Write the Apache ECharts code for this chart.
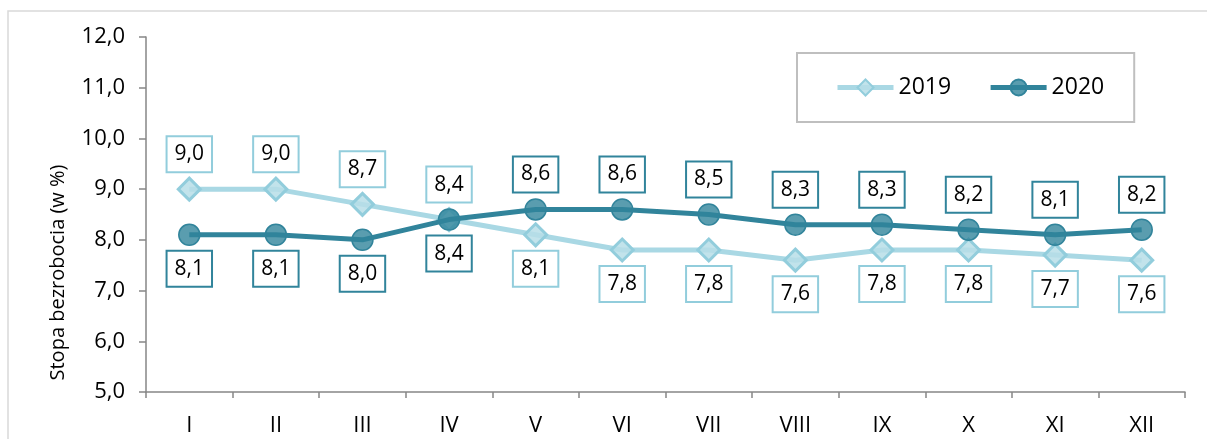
<!DOCTYPE html>
<html>
<head>
<meta charset="utf-8">
<script src="https://cdn.jsdelivr.net/npm/echarts@6/dist/echarts.min.js"></script>
<style>
html,body{margin:0;padding:0;background:#fff;}
#c{width:1207px;height:439px;}
</style>
</head>
<body>
<div id="c"></div>
<script>
const categories = ['I','II','III','IV','V','VI','VII','VIII','IX','X','XI','XII'];
const values2019 = [9.0, 9.0, 8.7, 8.4, 8.1, 7.8, 7.8, 7.6, 7.8, 7.8, 7.7, 7.6];
const values2020 = [8.1, 8.1, 8.0, 8.4, 8.6, 8.6, 8.5, 8.3, 8.3, 8.2, 8.1, 8.2];
const seriesNames = ['2019', '2020'];
const yAxisTitle = 'Stopa bezrobocia (w %)';
const yMin = 5, yMax = 12, yStep = 1;

const FONT = 'Open Sans';
const fmt = v => v.toFixed(1).replace('.', ',');

function labelled(values, other, isFirst, border) {
  return values.map((v, i) => {
    const above = isFirst ? v >= other[i] : v > other[i];
    return {
      value: v,
      label: {
        show: true,
        position: 'inside',
        offset: [0, above ? -35 : 34],
        formatter: p => fmt(p.value),
        color: '#000',
        fontFamily: FONT,
        fontSize: 21,
        lineHeight: 22,
        backgroundColor: '#fff',
        borderColor: border,
        borderWidth: 2,
        padding: [7, 7, 5, 7]
      }
    };
  });
}

const chart = echarts.init(document.getElementById('c'), null, {renderer: 'canvas'});
chart.setOption({
  animation: false,
  backgroundColor: '#fff',
  textStyle: {fontFamily: FONT},
  graphic: [{
    type: 'polyline',
    shape: {points: [[8, 445], [8, 11], [1210, 11]]},
    style: {stroke: '#D9D9D9', lineWidth: 1.5, fill: null},
    silent: true
  }],
  grid: {left: 146, right: 22, top: 37, bottom: 47},
  legend: {
    left: 797, top: 53,
    padding: [23, 30, 23, 38],
    borderColor: '#BFBFBF', borderWidth: 2,
    itemWidth: 56, itemHeight: 20, itemGap: 37,
    lineStyle: {width: 5},
    textStyle: {fontSize: 23, color: '#000', fontFamily: FONT},
    data: seriesNames
  },
  xAxis: {
    type: 'category',
    data: categories,
    boundaryGap: true,
    axisLine: {lineStyle: {color: '#868686', width: 1.5}},
    axisTick: {show: true, length: 6, lineStyle: {color: '#868686', width: 1.5}},
    axisLabel: {color: '#000', fontSize: 22, margin: 23, fontFamily: FONT},
    splitLine: {show: false}
  },
  yAxis: {
    type: 'value',
    min: yMin, max: yMax, interval: yStep,
    name: '{t|' + yAxisTitle + '}{sp|}',
    nameLocation: 'middle',
    nameGap: 78,
    nameRotate: 90,
    nameTextStyle: {
      color: '#000', fontSize: 20, fontFamily: FONT,
      rich: {
        t: {color: '#000', fontSize: 20, fontFamily: FONT},
        sp: {width: 116, height: 1}
      }
    },
    axisLine: {show: true, lineStyle: {color: '#868686', width: 1.5}},
    axisTick: {show: true, inside: false, length: 7, lineStyle: {color: '#868686', width: 1.5}},
    axisLabel: {color: '#000', fontSize: 22, margin: 21, fontFamily: FONT, formatter: v => fmt(v)},
    splitLine: {show: false}
  },
  series: [
    {
      name: seriesNames[0],
      type: 'line',
      data: labelled(values2019, values2020, true, '#92CDDC'),
      symbol: 'diamond',
      symbolSize: 22,
      showAllSymbol: true,
      lineStyle: {color: '#A9D8E4', width: 5},
      itemStyle: {color: 'rgba(183,222,232,0.85)', borderColor: '#92CDDC', borderWidth: 3},
      z: 2
    },
    {
      name: seriesNames[1],
      type: 'line',
      data: labelled(values2020, values2019, false, '#31849B'),
      symbol: 'circle',
      symbolSize: 21,
      showAllSymbol: true,
      lineStyle: {color: '#31849B', width: 5},
      itemStyle: {color: 'rgba(49,132,155,0.8)', borderColor: '#31849B', borderWidth: 1.5},
      z: 3
    }
  ]
});
</script>
</body>
</html>
